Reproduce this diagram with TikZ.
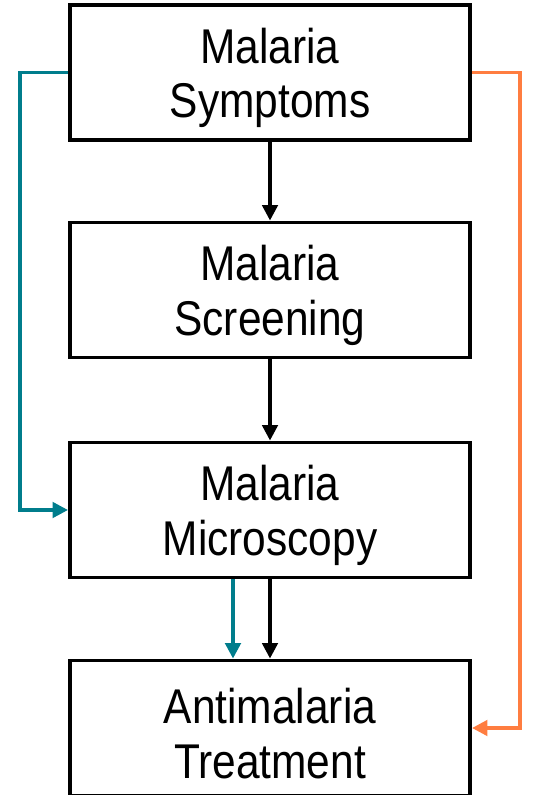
\documentclass[tikz,border=0pt]{standalone}
\usepackage{fontspec}
\setmainfont[FakeStretch=0.87]{Liberation Sans}
\usetikzlibrary{arrows.meta}

\definecolor{tealline}{RGB}{0,125,140}
\definecolor{orangeline}{RGB}{255,125,64}
\newcommand{\lift}{\rule{0pt}{1.15cm}}

\tikzset{
  box/.style={draw,line width=2.8pt,minimum width=10cm,minimum height=3.375cm,
    align=center,font=\fontsize{34.7}{39}\selectfont,inner sep=0pt},
  arrow/.style={line width=2.4pt,-{Triangle[length=11pt,width=11pt]}},
  side/.style={line width=2.5pt,-{Triangle[length=11pt,width=11pt]}}
}

\begin{document}
\begin{tikzpicture}[x=0.025cm,y=-0.025cm]
\useasboundingbox (0,0) rectangle (534,795);
% blocchi
   \node[box] (sym) at (270,72.5) {\lift Malaria\\Symptoms};
   \node[box] (scr) at (270,290) {\lift Malaria\\Screening};
   \node[box] (mic) at (270,510) {\lift Malaria\\Microscopy};
   \node[box] (trt) at (270,728) {\lift Antimalaria\\Treatment};
% frecce centrali
   \draw[arrow] (sym) -- (scr); \draw[arrow] (scr) -- (mic);
   \draw[arrow] (mic) -- (trt);
   \draw[side,tealline] ([xshift=-0.925cm]mic.south) --
   ([xshift=-0.925cm]trt.north);
% collegamenti laterali
   \draw[side,tealline] (sym.west) -- ++(-48,0) |- (mic.west);
   \draw[side,orangeline] (sym.east) -- ++(48,0) |- (trt.east);
\end{tikzpicture}
\end{document}
